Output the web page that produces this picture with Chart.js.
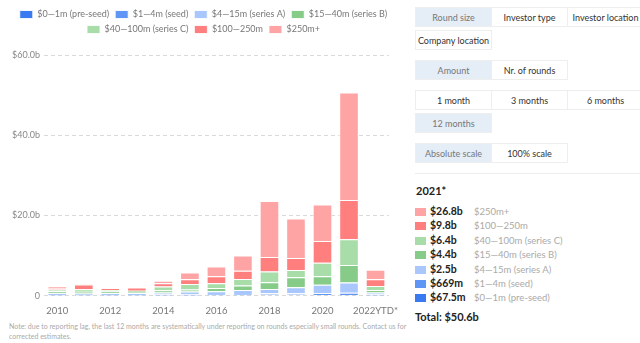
<!DOCTYPE html>
<html>
<head>
<meta charset="utf-8">
<script src="https://cdn.jsdelivr.net/npm/chart.js@4"></script>
<style>
  html, body { margin: 0; padding: 0; background: #fff; }
  body { width: 640px; height: 343px; overflow: hidden; position: relative; font-family: Lato, "Noto Sans", sans-serif; }
  #chartBox { position: absolute; left: 0; top: 0; width: 400px; height: 319px; }
  #note { position: absolute; left: 9px; top: 321px; font-size: 7px; line-height: 10px; color: #aaa; white-space: nowrap; }
  .group { position: absolute; left: 415px; display: grid; grid-template-columns: 76px 76px 76px; }
  .btn { height: 20px; line-height: 19px; text-align: center; font-size: 9px; color: #333; border: 1px solid #eee; margin: 0 -1px 0 0; box-sizing: border-box; white-space: nowrap; overflow: hidden; }
  .btn.on { background: #e5edf7; color: #777; }
  #summary { position: absolute; left: 415px; top: 173px; width: 225px; border-top: 1px solid #eee; }
  #summary h4 { margin: 10px 0 9px 1px; font-size: 11px; font-weight: bold; color: #222; }
  .row { height: 14.4px; position: relative; font-size: 10.5px; }
  .row .sw { position: absolute; left: 0; top: 2px; width: 11px; height: 8px; }
  .row .val { position: absolute; left: 15px; top: -1px; font-weight: bold; color: #222; }
  .row .lab { position: absolute; left: 59px; top: 0; font-size: 9.5px; color: #aaa; }
  #total { margin-top: 3px; font-size: 11px; font-weight: bold; color: #222; }
</style>
</head>
<body>
<div id="chartBox"><canvas id="roundsChart"></canvas></div>
<div id="note">Note: due to reporting lag, the last 12 months are systematically under reporting on rounds especially small rounds. Contact us for<br>corrected estimates.</div>

<div class="group" style="top:7px">
  <div class="btn on">Round size</div><div class="btn">Investor type</div><div class="btn">Investor location</div>
</div>
<div class="group" style="top:30px">
  <div class="btn">Company location</div>
</div>
<div class="group" style="top:60px">
  <div class="btn on">Amount</div><div class="btn">Nr. of rounds</div>
</div>
<div class="group" style="top:90px">
  <div class="btn">1 month</div><div class="btn">3 months</div><div class="btn">6 months</div>
</div>
<div class="group" style="top:113px">
  <div class="btn on">12 months</div>
</div>
<div class="group" style="top:143px">
  <div class="btn on">Absolute scale</div><div class="btn">100% scale</div>
</div>

<div id="summary">
  <h4>2021*</h4>
  <div id="rows"></div>
  <div id="total"></div>
</div>

<script>
// funding per year, in $ billions, split by round size
const years = ["2010", "2011", "2012", "2013", "2014", "2015", "2016", "2017", "2018", "2019", "2020", "2021", "2022YTD*"];
const preSeed = [0.02, 0.02, 0.02, 0.02, 0.05, 0.05, 0.1, 0.07, 0.25, 0.25, 0.15, 0.0675, 0.05];
const seed = [0.15, 0.12, 0.15, 0.15, 0.2, 0.2, 0.3, 0.35, 0.33, 0.33, 0.45, 0.669, 0.2];
const seriesA = [0.4, 0.4, 0.5, 0.45, 0.55, 0.75, 0.7, 1.0, 1.09, 1.5, 2.1, 2.5, 0.5];
const seriesB = [0.5, 0.45, 0.35, 0.3, 0.55, 0.5, 0.8, 1.1, 1.66, 2.5, 2.1, 4.4, 0.65];
const seriesC = [0.45, 0.6, 0.4, 0.3, 0.95, 1.4, 1.2, 1.6, 2.67, 1.8, 3.4, 6.4, 1.0];
const mid = [0.4, 1.2, 0.4, 0.8, 0.75, 1.15, 1.75, 2.1, 3.6, 3.0, 5.4, 9.8, 1.65];
const large = [0.35, 0.1, 0.15, 0.05, 0.65, 1.7, 2.4, 3.8, 14.0, 9.85, 9.1, 26.8, 2.4];

const roundLabels = ["$0\u20141m (pre-seed)", "$1\u20144m (seed)", "$4\u201415m (series A)", "$15\u201440m (series B)",
  "$40\u2014100m (series C)", "$100\u2014250m", "$250m+"];
const roundColors = ["#3a7af0", "#5f95f5", "#a9c7fd", "#87cb89", "#a8dca8", "#ff7f7f", "#ffa4a4"];
const yTicks = [0, 20, 40, 60];
const summaryYear = "2021";

const series = [preSeed, seed, seriesA, seriesB, seriesC, mid, large];

function fmtAmount(v) {
  if (v >= 1) return "$" + v.toFixed(1) + "b";
  const m = v * 1000;
  return "$" + (m < 100 ? m.toFixed(1) : m.toFixed(0)) + "m";
}

// push the plot area down a bit below the legend
const legendGap = {
  id: "legendGap",
  beforeInit(chart) {
    const fit = chart.legend.fit;
    chart.legend.fit = function () {
      fit.bind(chart.legend)();
      this.height += 11;
    };
  }
};

new Chart(document.getElementById("roundsChart"), {
  type: "bar",
  data: {
    labels: years,
    datasets: series.map((data, i) => ({
      label: roundLabels[i],
      data: data,
      backgroundColor: roundColors[i],
      borderColor: "rgba(255,255,255,0.85)",
      borderWidth: 1,
      barPercentage: 0.74,
      categoryPercentage: 1
    }))
  },
  options: {
    responsive: true,
    maintainAspectRatio: false,
    animation: false,
    layout: { padding: { top: 4, left: 8, right: 1, bottom: 0 } },
    plugins: {
      tooltip: { enabled: false },
      legend: {
        position: "top",
        labels: {
          boxWidth: 13,
          boxHeight: 8,
          padding: 6,
          color: "#777",
          font: { family: "Lato", size: 9 }
        }
      }
    },
    scales: {
      x: {
        stacked: true,
        grid: { display: false },
        border: { display: false },
        ticks: {
          autoSkip: false,
          maxRotation: 0,
          color: "#777",
          font: { family: "Lato", size: 9.5 },
          padding: 2,
          callback: (v, i) => (i % 2 === 0 ? years[i] : "")
        }
      },
      y: {
        stacked: true,
        min: 0,
        max: 60,
        afterBuildTicks: axis => { axis.ticks = yTicks.map(v => ({ value: v })); },
        grid: { color: "#d9d9d9", drawTicks: false },
        border: { display: false, dash: [4, 3] },
        ticks: {
          color: "#888",
          padding: 4,
          font: { family: "Lato", size: 9 },
          callback: v => (v === 0 ? "0" : "$" + v.toFixed(1) + "b")
        }
      }
    }
  },
  plugins: [legendGap]
});

// breakdown for the selected year, largest rounds first
const idx = years.indexOf(summaryYear);
const rows = document.getElementById("rows");
let total = 0;
for (let i = series.length - 1; i >= 0; i--) {
  const v = series[i][idx];
  total += v;
  const row = document.createElement("div");
  row.className = "row";
  row.innerHTML = '<span class="sw" style="background:' + roundColors[i] + '"></span>' +
    '<span class="val">' + fmtAmount(v) + '</span>' +
    '<span class="lab">' + roundLabels[i] + '</span>';
  rows.appendChild(row);
}
document.getElementById("total").textContent = "Total: " + fmtAmount(total);
</script>
</body>
</html>
